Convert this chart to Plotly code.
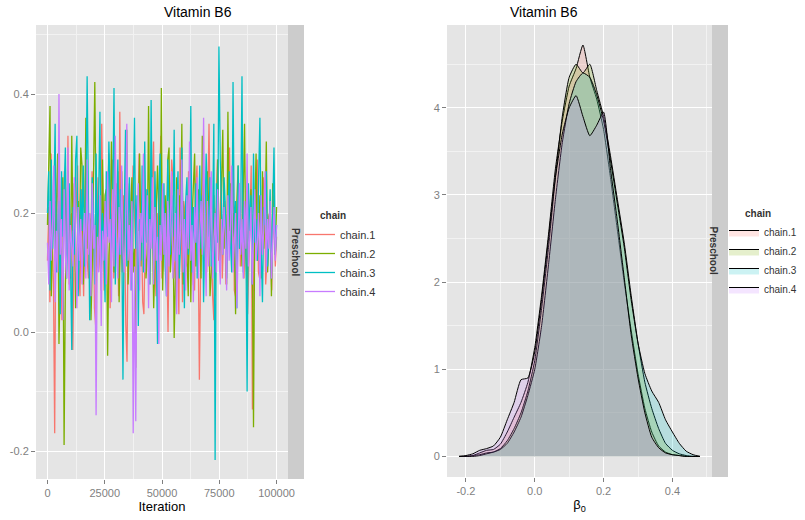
import numpy as np
import plotly.graph_objects as go

# ---------------- data ----------------
chains = ["chain.1", "chain.2", "chain.3", "chain.4"]
colors = ["#F8766D", "#7CAE00", "#00BFC4", "#C77CFF"]
fills = ["rgba(248,118,109,0.2)", "rgba(124,174,0,0.2)", "rgba(0,191,196,0.2)", "rgba(199,124,255,0.2)"]
legend_title = "chain"

chain1 = [0.12, 0.21, 0.05, 0.30, 0.16, 0.08, -0.17, 0.22, 0.14, 0.10, 0.26, 0.18, 0.02, 0.11, 0.27, 0.19, 0.14, 0.33, 0.08, 0.17,
          0.20, -0.03, 0.13, 0.16, 0.24, 0.28, 0.11, 0.06, 0.24, 0.15, 0.06, 0.19, 0.31, 0.12, 0.09, 0.20, 0.15, 0.27, 0.22, 0.04,
          0.01, 0.18, 0.26, 0.13, 0.10, 0.35, 0.21, 0.07, 0.18, 0.14, 0.23, 0.30, 0.04, 0.17, 0.29, 0.09, 0.12, 0.25, 0.20, 0.06,
          0.37, 0.16, 0.10, 0.23, 0.16, 0.01, -0.05, 0.19, 0.25, 0.11, 0.14, 0.28, 0.21, 0.13, 0.08, 0.19, 0.30, 0.24, 0.17, 0.05,
          0.03, 0.15, 0.24, 0.18, 0.12, 0.08, 0.19, 0.27, 0.32, 0.13, 0.06, 0.20, 0.15, 0.24, 0.33, 0.09, 0.11, 0.18, 0.22, 0.14,
          0.00, 0.17, 0.18, 0.29, 0.26, 0.12, 0.09, 0.21, 0.14, 0.03, 0.31, 0.16, 0.05, 0.22, 0.20, 0.11, 0.13, 0.27, 0.25, 0.18,
          0.16, 0.08, 0.07, 0.24, 0.28, 0.15, -0.08, 0.10, 0.19, 0.26, 0.23, 0.13, 0.10, 0.21, 0.35, 0.17, 0.15, 0.06, 0.02, 0.19,
          0.21, 0.29, 0.12, 0.16, 0.27, 0.09, 0.17, 0.22, 0.08, 0.13, 0.24, 0.31, 0.14, 0.18, 0.30, 0.07, 0.06, 0.20, 0.19, 0.25,
          0.11, 0.15, 0.26, 0.09, 0.16, 0.21, 0.03, 0.12, 0.22, 0.28, -0.13, 0.14, 0.18, 0.23, 0.29, 0.10, 0.09, 0.17, 0.15, 0.26,
          0.24, 0.08, 0.12, 0.19, 0.20, 0.14, 0.07, 0.23, 0.17, 0.11, 0.16]
chain2 = [0.18, 0.30, 0.38, 0.06, 0.15, 0.24, 0.12, 0.21, 0.30, -0.02, 0.10, 0.20, 0.26, -0.19, 0.08, 0.15, 0.27, 0.19, 0.09, 0.33,
          0.17, 0.25, 0.04, 0.12, 0.22, 0.13, 0.31, 0.28, 0.08, 0.16, 0.36, 0.14, 0.20, 0.19, 0.02, 0.11, 0.25, 0.42, 0.18, 0.11,
          0.21, 0.14, 0.07, 0.29, 0.16, 0.23, 0.24, -0.04, 0.13, 0.18, 0.32, 0.20, 0.10, 0.23, 0.15, 0.27, 0.05, 0.16, 0.27, 0.19,
          0.12, 0.24, 0.34, 0.08, 0.15, 0.21, 0.26, 0.10, 0.14, -0.06, 0.20, 0.17, 0.30, 0.11, 0.22, 0.17, 0.24, 0.09, 0.13, 0.38,
          0.15, 0.22, 0.19, 0.04, 0.12, 0.19, 0.28, 0.21, 0.13, 0.41, 0.07, 0.18, 0.23, 0.16, 0.29, 0.31, 0.10, 0.14, 0.20, -0.01,
          0.09, 0.26, 0.14, 0.23, 0.18, 0.35, 0.08, 0.17, 0.22, 0.13, 0.06, 0.27, 0.05, 0.19, 0.24, 0.30, 0.11, 0.16, 0.24, 0.16,
          0.09, 0.33, 0.20, 0.12, 0.15, 0.27, 0.21, 0.06, 0.10, 0.15, 0.23, 0.06, 0.18, 0.29, 0.18, 0.10, 0.25, 0.34, 0.14, 0.21,
          0.08, 0.37, 0.17, 0.25, 0.12, 0.20, 0.16, 0.03, 0.22, 0.28, 0.14, 0.19, 0.11, 0.26, 0.35, 0.13, 0.07, 0.21, 0.18, 0.24,
          0.15, -0.16, 0.20, 0.30, 0.12, 0.17, 0.23, 0.09, 0.27, 0.14, 0.19, 0.32, 0.10, 0.16, 0.22, 0.06, 0.25, 0.18, 0.13, 0.21]
chain3 = [0.20, 0.27, 0.07, 0.29, 0.14, 0.22, 0.35, 0.10, 0.18, 0.22, 0.03, 0.27, 0.16, 0.24, 0.31, 0.09, 0.19, 0.25, 0.12, -0.03,
          0.21, 0.13, 0.29, 0.33, 0.06, 0.17, 0.24, 0.17, 0.28, 0.11, 0.20, 0.43, 0.15, 0.02, 0.14, 0.26, 0.19, 0.08, 0.30, 0.14,
          0.23, 0.37, 0.10, 0.20, 0.16, 0.05, 0.27, 0.16, 0.32, 0.21, 0.12, 0.22, 0.41, 0.08, 0.18, 0.29, 0.13, 0.24, 0.18, -0.08,
          0.20, 0.34, 0.11, 0.17, 0.26, 0.13, 0.07, 0.21, 0.36, 0.14, 0.23, 0.01, 0.19, 0.12, 0.28, 0.10, 0.32, 0.15, 0.24, 0.20,
          0.08, 0.39, 0.17, 0.12, 0.27, 0.16, -0.02, 0.22, 0.30, 0.14, 0.19, 0.25, 0.11, 0.06, 0.29, 0.19, 0.13, 0.23, 0.16, 0.34,
          0.12, 0.20, 0.27, 0.09, 0.15, 0.31, 0.18, 0.04, 0.22, 0.26, 0.13, 0.17, 0.38, 0.10, 0.21, 0.15, 0.25, 0.09, 0.19, 0.28,
          0.14, 0.23, 0.05, 0.18, 0.30, 0.22, 0.16, 0.26, 0.11, 0.18, 0.35, -0.215, 0.25, 0.15, 0.48, 0.29, 0.19, 0.13, 0.26, 0.21,
          0.09, 0.16, 0.27, 0.15, 0.10, 0.42, 0.16, 0.22, 0.04, 0.28, 0.14, 0.20, 0.43, 0.10, 0.21, 0.17, -0.10, 0.25, 0.17, 0.23,
          0.08, 0.30, 0.15, 0.19, 0.12, 0.26, 0.36, 0.14, 0.05, 0.21, 0.18, 0.27, 0.11, 0.16, 0.24, 0.09, 0.20, 0.31, 0.13, 0.18]
chain4 = [0.15, 0.08, 0.22, 0.12, 0.18, 0.28, 0.05, 0.17, 0.10, 0.40, 0.13, 0.19, 0.02, 0.24, 0.13, 0.09, 0.31, 0.07, 0.18, 0.15,
          0.11, 0.26, 0.15, 0.04, 0.21, 0.12, 0.19, 0.08, 0.16, 0.20, 0.09, 0.29, 0.13, 0.20, 0.06, 0.25, 0.14, 0.18, -0.14, 0.16,
          0.10, 0.23, 0.01, 0.17, 0.12, 0.22, 0.08, 0.27, 0.15, 0.19, 0.05, 0.24, 0.11, 0.33, 0.16, 0.09, 0.21, 0.13, 0.28, 0.14,
          0.10, 0.17, 0.35, 0.12, 0.18, 0.07, 0.22, -0.17, 0.11, -0.15, 0.16, 0.25, 0.07, 0.20, 0.15, 0.30, 0.10, 0.17, 0.23, 0.04,
          0.19, 0.14, 0.26, 0.08, 0.21, 0.12, 0.16, -0.02, 0.18, 0.12, 0.25, 0.13, 0.20, 0.06, 0.22, 0.11, 0.18, 0.27, 0.09, 0.15,
          0.20, 0.03, 0.24, 0.13, 0.17, 0.29, 0.10, 0.19, 0.07, 0.23, 0.14, 0.32, 0.12, 0.18, 0.05, 0.21, 0.15, 0.26, 0.09, 0.17,
          0.22, 0.13, 0.36, 0.16, 0.06, 0.22, 0.11, 0.18, 0.27, 0.09, 0.15, 0.20, 0.10, 0.24, 0.14, 0.08, 0.19, 0.13, 0.21, 0.16,
          0.07, 0.23, 0.12, 0.18, 0.28, 0.10, 0.15, 0.20, 0.04, 0.17, 0.25, 0.13, 0.19, 0.09, 0.22, 0.14, 0.30, 0.11, 0.16, 0.21,
          0.08, 0.18, 0.24, 0.12, 0.15, 0.20, 0.06, 0.23, 0.13, 0.17, 0.27, 0.10, 0.19, 0.14, 0.22, 0.09, 0.16, 0.21, 0.12, 0.18]
trace_values = [chain1, chain2, chain3, chain4]

beta_grid = [-0.22, -0.20, -0.18, -0.16, -0.14, -0.12, -0.10, -0.08, -0.06, -0.04, -0.02, 0.00,
             0.02, 0.04, 0.06, 0.08, 0.10, 0.12, 0.14, 0.16, 0.18, 0.20, 0.22, 0.24,
             0.26, 0.28, 0.30, 0.32, 0.34, 0.36, 0.38, 0.40, 0.42, 0.44, 0.46, 0.48]
dens1 = [0, 0, 0.01, 0.04, 0.07, 0.08, 0.14, 0.28, 0.45, 0.62, 0.85, 1.25,
         1.85, 2.55, 3.3, 3.85, 4.25, 4.45, 4.72, 4.35, 4.1, 3.75, 3.2, 2.6,
         2.0, 1.45, 0.95, 0.55, 0.28, 0.12, 0.05, 0.02, 0.01, 0, 0, 0]
dens2 = [0, 0, 0.01, 0.02, 0.04, 0.05, 0.09, 0.18, 0.32, 0.5, 0.75, 1.1,
         1.7, 2.4, 3.2, 3.9, 4.35, 4.5, 4.4, 4.5, 4.2, 3.9, 3.45, 2.95,
         2.45, 1.85, 1.3, 0.85, 0.55, 0.32, 0.15, 0.07, 0.03, 0.01, 0, 0]
dens3 = [0, 0, 0, 0.01, 0.03, 0.05, 0.08, 0.15, 0.28, 0.45, 0.7, 1.0,
         1.5, 2.2, 2.95, 3.6, 4.05, 4.3, 4.4, 4.35, 4.15, 3.85, 3.4, 2.9,
         2.4, 1.8, 1.3, 0.95, 0.75, 0.62, 0.42, 0.28, 0.15, 0.06, 0.02, 0]
dens4 = [0, 0.01, 0.03, 0.07, 0.09, 0.12, 0.22, 0.42, 0.62, 0.88, 0.9, 1.2,
         1.8, 2.5, 3.2, 3.7, 4.0, 4.14, 3.9, 3.68, 3.8, 3.95, 3.3, 2.7,
         2.05, 1.4, 0.9, 0.5, 0.22, 0.1, 0.04, 0.02, 0.01, 0, 0, 0]
density_values = [dens1, dens2, dens3, dens4]

iter_ticks = [0, 25000, 50000, 75000, 100000]
iter_ticktext = ["0", "25000", "50000", "75000", "100000"]
trace_yticks = [-0.2, 0.0, 0.2, 0.4]
trace_yticktext = ["-0.2", "0.0", "0.2", "0.4"]
beta_ticks = [-0.2, 0.0, 0.2, 0.4]
beta_ticktext = ["-0.2", "0.0", "0.2", "0.4"]
dens_ticks = [0, 1, 2, 3, 4]

# ---------------- figure ----------------
W, H = 805, 520
def px_x(p): return p / W
def px_y(p): return (H - p) / H

FONT = "Liberation Sans, Arial, sans-serif"
fig = go.Figure()

for name, col, vals in zip(chains, colors, trace_values):
    its = np.linspace(0, 100000, len(vals))
    fig.add_trace(go.Scatter(x=its, y=vals, mode="lines", name=name,
                             line=dict(color=col, width=1.3),
                             xaxis="x", yaxis="y", legend="legend"))

for name, col, fc, dv in zip(chains, colors, fills, density_values):
    fig.add_trace(go.Scatter(x=beta_grid, y=dv, mode="lines", name=name,
                             line=dict(color="black", width=1, shape="spline", smoothing=0.5),
                             fill="tozeroy", fillcolor=fc,
                             xaxis="x2", yaxis="y2", legend="legend2"))

tickfont = dict(family=FONT, size=11, color="#7F7F7F")
common = dict(showline=False, zeroline=False, ticks="outside", ticklen=4, tickcolor="#7F7F7F",
              tickfont=tickfont, gridcolor="white", gridwidth=1.1, showgrid=True)

L_x0, L_x1, L_top, L_bot = 36, 288, 25, 479
R_x0, R_x1, R_top, R_bot = 447, 712, 25, 477

fig.update_layout(
    width=W, height=H, margin=dict(l=0, r=0, t=0, b=0, autoexpand=False),
    paper_bgcolor="white", plot_bgcolor="#E5E5E5",
    font=dict(family=FONT),
    xaxis=dict(domain=[px_x(L_x0), px_x(L_x1)], range=[-5000, 105000], anchor="y",
               tickvals=iter_ticks, ticktext=iter_ticktext,
               minor=dict(showgrid=True, gridcolor="#F2F2F2", dtick=12500, tick0=12500, ticks=""),
               title=dict(text="Iteration", font=dict(size=13, color="black"), standoff=3), **common),
    yaxis=dict(domain=[px_y(L_bot), px_y(L_top)], range=[-0.247, 0.516], anchor="x",
               tickvals=trace_yticks, ticktext=trace_yticktext,
               minor=dict(showgrid=True, gridcolor="#F2F2F2", dtick=0.2, tick0=-0.1, ticks=""),
               **common),
    xaxis2=dict(domain=[px_x(R_x0), px_x(R_x1)], range=[-0.255, 0.515], anchor="y2",
                tickvals=beta_ticks, ticktext=beta_ticktext,
                minor=dict(showgrid=True, gridcolor="#F2F2F2", dtick=0.2, tick0=-0.1, ticks=""),
                title=dict(text="β<sub>0</sub>", font=dict(size=13, color="black"), standoff=3), **common),
    yaxis2=dict(domain=[px_y(R_bot), px_y(R_top)], range=[-0.236, 4.95], anchor="x2",
                tickvals=dens_ticks,
                minor=dict(showgrid=True, gridcolor="#F2F2F2", dtick=1, tick0=0.5, ticks=""),
                **common),
    legend=dict(x=px_x(300), y=px_y(220), xanchor="left", yanchor="top",
                font=dict(size=11, color="#333"), bgcolor="rgba(0,0,0,0)",
                tracegroupgap=0, itemwidth=30),
    legend2=dict(x=px_x(724), y=px_y(218), xanchor="left", yanchor="top",
                 font=dict(size=10, color="#333"), bgcolor="rgba(0,0,0,0)",
                 tracegroupgap=0, itemwidth=30),
    showlegend=True,
)

# legend titles
for lx, ly in [(318, 215), (743, 213)]:
    fig.add_annotation(xref="paper", yref="paper", x=px_x(lx), y=px_y(ly),
                       text="<b>" + legend_title + "</b>", showarrow=False,
                       xanchor="left", yanchor="middle",
                       font=dict(size=10, color="#333", family=FONT))

# strips
for sx0, sx1, top, bot in [(288, 304, L_top, L_bot), (712, 728, R_top, R_bot)]:
    fig.add_shape(type="rect", xref="paper", yref="paper",
                  x0=px_x(sx0), x1=px_x(sx1), y0=px_y(bot), y1=px_y(top),
                  fillcolor="#CCCCCC", line=dict(width=0), layer="below")
    fig.add_annotation(xref="paper", yref="paper", x=px_x((sx0 + sx1) / 2), y=px_y((top + bot) / 2),
                       text="<b>Preschool</b>", textangle=90, showarrow=False,
                       font=dict(size=10, color="#333", family=FONT))

# titles
for cx in [(L_x0 + L_x1) / 2, (R_x0 + R_x1) / 2]:
    fig.add_annotation(xref="paper", yref="paper", x=px_x(cx), y=px_y(12),
                       text="Vitamin B6", showarrow=False, yanchor="middle",
                       font=dict(size=14, color="black", family=FONT))

fig.write_html("out.html")
